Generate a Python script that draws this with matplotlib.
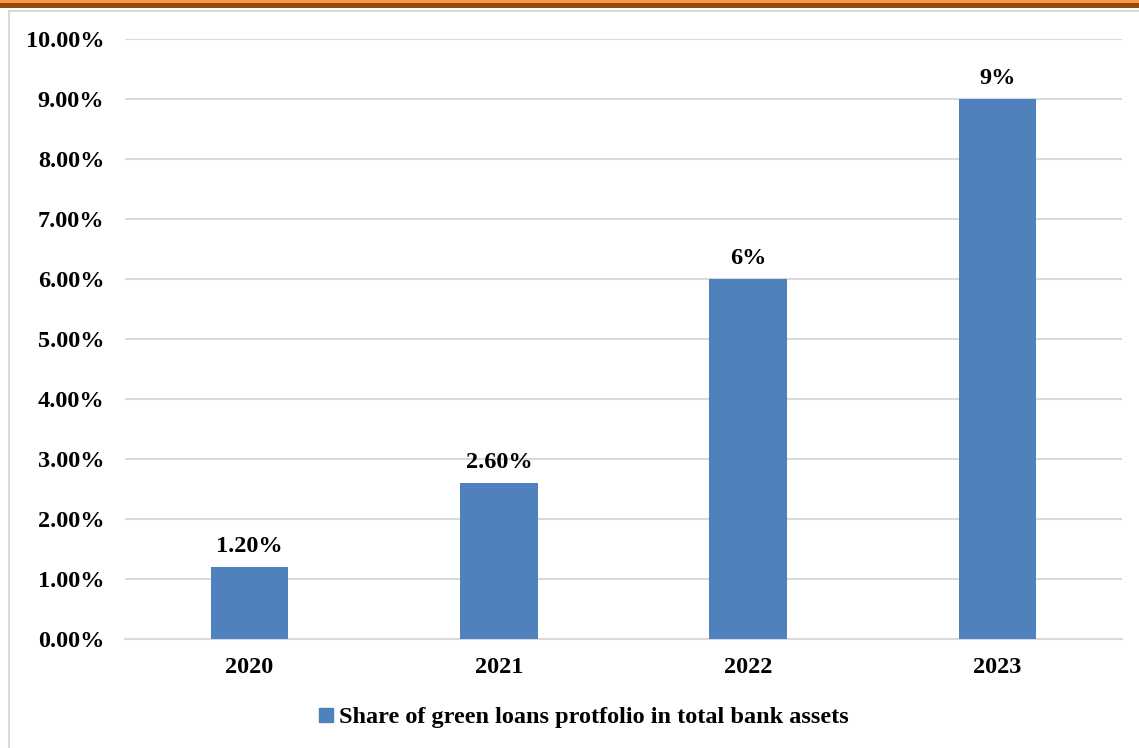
import matplotlib.pyplot as plt
from matplotlib.patches import Rectangle
from matplotlib.lines import Line2D

years = ['2020', '2021', '2022', '2023']
shares = [1.2, 2.6, 6.0, 9.0]
labels = ['1.20%', '2.60%', '6%', '9%']
series_name = 'Share of green loans protfolio in total bank assets'

plt.rcParams['font.family'] = ['Liberation Serif', 'DejaVu Serif']
plt.rcParams['font.weight'] = 'bold'

W, H = 1139, 748
fs = 17.5
fig = plt.figure(figsize=(W / 100, H / 100), dpi=100)

# orange band on top and grey frame
fig.patches.append(Rectangle((0, 1 - 7.5 / H), 1, 7.5 / H, transform=fig.transFigure,
                             facecolor='#984807', edgecolor='none'))
fig.patches.append(Rectangle((0, 1 - 2.5 / H), 1, 2.5 / H, transform=fig.transFigure,
                             facecolor='#F79646', edgecolor='none'))
fig.lines.append(Line2D([8.5 / W, 8.5 / W], [0, 1 - 10.5 / H], transform=fig.transFigure,
                        color='#D9D9D9', lw=1.5))
fig.lines.append(Line2D([8.5 / W, 1], [1 - 10.5 / H, 1 - 10.5 / H], transform=fig.transFigure,
                        color='#D9D9D9', lw=1.5))

ax = fig.add_axes([125 / W, 1 - 639 / H, 997 / W, 600 / H])
x = range(len(years))
ax.bar(x, shares, width=0.31, color='#4F81BD', zorder=3)
for xi, v, lab in zip(x, shares, labels):
    ax.annotate(lab, (xi, v), xytext=(0, 7), textcoords='offset points',
                ha='center', va='bottom', fontsize=fs, fontweight='bold')

ax.set_xlim(-0.5, 3.5)
ax.set_ylim(0, 10)
ax.set_yticks(range(0, 11))
ax.set_yticklabels(['{:.2f}%'.format(t) for t in range(0, 11)])
ax.set_xticks(list(x))
ax.set_xticklabels(years)
ax.grid(axis='y', color='#D9D9D9', lw=1.5, zorder=0)
for s in ['top', 'right', 'left']:
    ax.spines[s].set_visible(False)
ax.spines['bottom'].set_color('#D9D9D9')
ax.spines['bottom'].set_linewidth(1.5)
ax.tick_params(length=0, labelsize=fs, pad=13)
ax.tick_params(axis='y', pad=15)

handle = Rectangle((0, 0), 1, 1, color='#4F81BD')
fig.legend([handle], [series_name], loc='center', bbox_to_anchor=(584 / W, 1 - 718 / H),
           frameon=False, fontsize=fs, handlelength=0.55, handleheight=0.55,
           handletextpad=0.25)

fig.savefig('out.png', dpi=100)
